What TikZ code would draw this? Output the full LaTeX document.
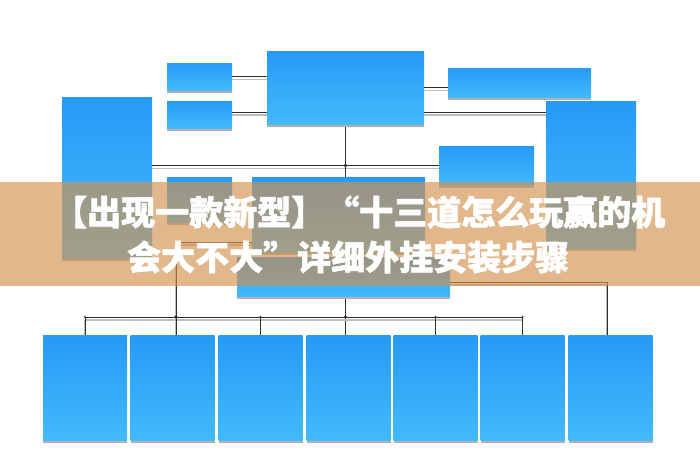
\documentclass[tikz,border=0pt]{standalone}
\usepackage{fontspec}
\newfontfamily\cjk{Noto Sans CJK SC}[BoldFeatures={FakeBold=1.6}]
\usetikzlibrary{calc,shadows}
\pgfdeclarelayer{bg}\pgfdeclarelayer{fg}
\pgfsetlayers{bg,main,fg}
\definecolor{boxtop}{RGB}{38,154,247}
\definecolor{boxbot}{RGB}{66,186,251}
\definecolor{shadowgrey}{RGB}{176,176,176}
\definecolor{linedark}{RGB}{45,45,45}
\definecolor{lineshade}{RGB}{190,190,190}
\definecolor{bannertan}{RGB}{211,145,78}
\begin{document}
\begin{tikzpicture}[x=1pt,y=-1pt,
  bluebox/.style={rectangle, inner sep=0pt, outer sep=0pt, top color=boxtop, bottom color=boxbot,
    drop shadow={shadow xshift=0pt, shadow yshift=-3pt, fill=shadowgrey, opacity=1}},
  conn/.style={draw=linedark, line width=0.8pt,
    preaction={draw=lineshade, line width=1.2pt, transform canvas={yshift=-3pt}}},
  dot/.style={circle, fill=linedark, inner sep=0pt, minimum size=3.8pt},
  smalldot/.style={circle, fill=linedark, inner sep=0pt, minimum size=2.4pt},
  bannertext/.style={anchor=base west, inner sep=0pt, text=white, font=\cjk\bfseries\fontsize{34}{40}\selectfont}]
\useasboundingbox (0,0) rectangle (700,469);
\begin{pgfonlayer}{bg}
\fill[white] (0,0) rectangle (700,469);
\end{pgfonlayer}
% boxes
\node[bluebox, minimum width=65pt, minimum height=27pt] (a1) at (199.5,76.5) {};
\node[bluebox, minimum width=65pt, minimum height=27pt] (a2) at (199.5,114.5) {};
\node[bluebox, minimum width=157pt, minimum height=73pt] (top) at (345.5,87.5) {};
\node[bluebox, minimum width=143pt, minimum height=29pt] (b1) at (519.5,82.5) {};
\node[bluebox, minimum width=90pt, minimum height=161pt] (L) at (107,177.5) {};
\node[bluebox, minimum width=90pt, minimum height=147pt] (R) at (591,174.5) {};
\node[bluebox, minimum width=95pt, minimum height=39pt] (b2) at (486.5,165.5) {};
\node[bluebox, minimum width=65pt, minimum height=45pt] (a3) at (199.5,199.5) {};
\node[bluebox, minimum width=173pt, minimum height=75pt] (a4) at (338.5,214.5) {};
\node[bluebox, minimum width=213pt, minimum height=39pt] (m) at (343.5,276.5) {};
\foreach \i/\x in {1/85,2/172.5,3/260.5,4/348.5,5/435.5,6/522.5,7/610.5}
  \node[bluebox, minimum width=84pt, minimum height=105pt] (d\i) at (\x,387.5) {};
% helper coordinates
\coordinate (busL) at (85,317);
\coordinate (busR) at (522.5,317);
\coordinate (kL) at (176,242);
\coordinate (kR) at (607,282);
\coordinate (trunkBus) at (345.5,317);
% connectors
\begin{pgfonlayer}{bg}
\draw[conn] (a1.east) -- (a1.east -| top.west);
\draw[conn] (a2.east |- 0,112) -- (top.west |- 0,112);
\draw[conn] (top.east) -- (top.east -| b1.west);
\draw[conn] (top.east |- 0,112) -- (R.west |- 0,112);
\draw[conn] (L.east |- b2.west) -- (b2.west);
\draw[conn] (top.south) -- (top.south |- d4.north);
\draw[conn] (busL) -- (busR);
\foreach \i in {1,3,5,6} \draw[conn] (d\i.north) -- (d\i.north |- busL);
\draw[conn] (a4.west |- kL) -- (kL) -- (kL |- d2.north);
\draw[conn] (m.east |- kR) -- (kR) -- (kR |- d7.north);
\end{pgfonlayer}
% junction dots
\node[dot] (j1) at (top.south |- b2.west) {};
\node[dot] (j2) at (trunkBus) {};
\node[dot] (j3) at (kL |- busL) {};
\foreach \x in {85,260.5,435.5,522.5} \node[smalldot] at (\x,317) {};
% banner
\begin{pgfonlayer}{fg}
\fill[bannertan, fill opacity=0.65] (0,182) rectangle (700,286);
\node[bannertext] (t1) at (53,225) {【出现一款新型】“十三道怎么玩赢的机};
\node[bannertext] (t2) at (127,270) {会大不大”详细外挂安装步骤};
\end{pgfonlayer}
\end{tikzpicture}
\end{document}
